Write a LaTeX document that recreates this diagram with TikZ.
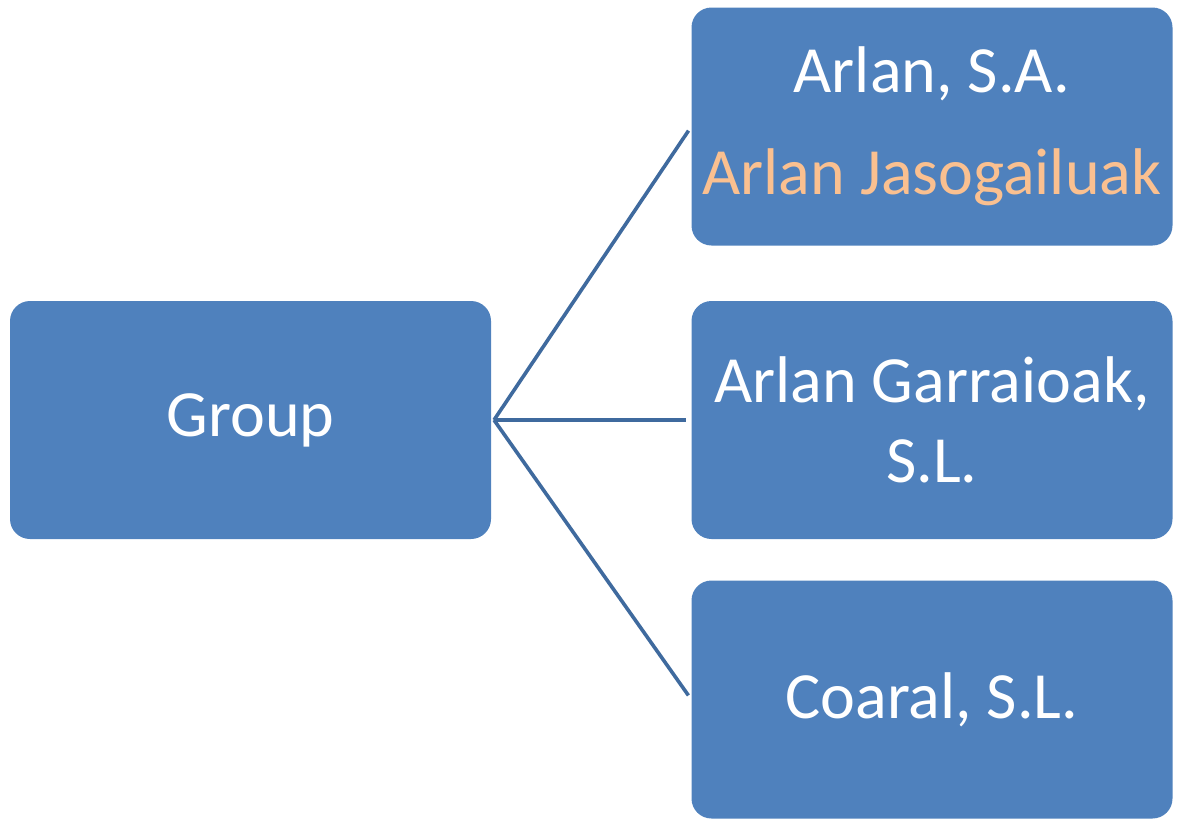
\documentclass[tikz,border=0pt]{standalone}
\usepackage{fontspec}
\setmainfont{Carlito}
\definecolor{boxblue}{HTML}{4F81BD}
\definecolor{lineblue}{HTML}{3F6A9E}
\definecolor{peach}{HTML}{FAC090}
\tikzset{
  company/.style={draw=none,fill=boxblue,rounded corners=20pt,
    minimum width=481pt,minimum height=238pt,align=center,
    text=white,font=\fontsize{66}{80}\selectfont},
  link/.style={lineblue,line width=3.6pt,shorten >=5pt}
}
\begin{document}
\begin{tikzpicture}[x=1pt,y=-1pt]
  \useasboundingbox (0,0) rectangle (1180,819);

  % boxes
  \node[company] (group) at (250.5,420) {Group};
  \node[company] (sa) at (932,126.5) {Arlan, S.A.\\[22pt]\textcolor{peach}{Arlan Jasogailuak}};
  \node[company] (sl) at (932,420) {Arlan Garraioak,\\S.L.};
  \node[company] (coaral) at (932,699.5) {Coaral, S.L.};

  % links
  \coordinate (hub) at (494,420);
  \draw[link] (hub) -- (sa.west);
  \draw[link] (hub) -- (sl.west);
  \draw[link] (hub) -- (coaral.west);
\end{tikzpicture}
\end{document}
